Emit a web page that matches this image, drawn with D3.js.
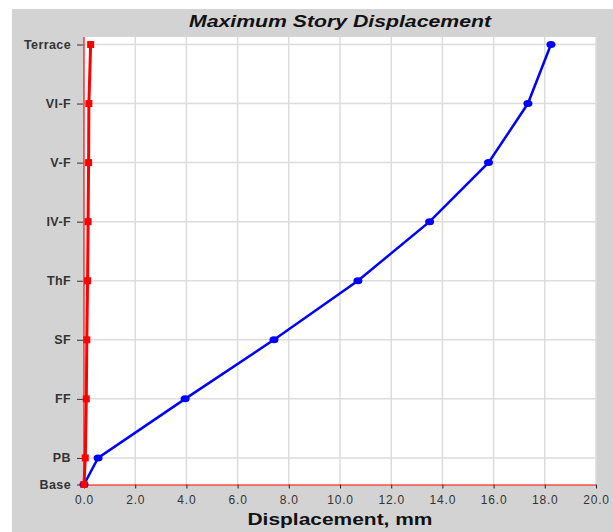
<!DOCTYPE html>
<html>
<head>
<meta charset="utf-8">
<script src="https://cdn.jsdelivr.net/npm/d3@7"></script>
<style>
  body { margin: 0; background: #fff; }
  svg { display: block; }
</style>
</head>
<body>
<script>
// story names and their elevations (m)
var stories = ['Base', 'PB', 'FF', 'SF', 'ThF', 'IV-F', 'V-F', 'VI-F', 'Terrace'],
    levels = [0, 1.35, 4.35, 7.35, 10.35, 13.35, 16.35, 19.35, 22.35],
    dispBlue = [0, 0.55, 3.95, 7.42, 10.7, 13.5, 15.8, 17.34, 18.24],
    dispRed = [0, 0.05, 0.09, 0.11, 0.14, 0.16, 0.18, 0.19, 0.26],
    xTicks = [0, 2, 4, 6, 8, 10, 12, 14, 16, 18, 20];

var svgwidth = 613, svgheight = 532,
    plot = { left: 84, right: 596, top: 37, bottom: 485 };

var xscale = d3.scaleLinear().domain([0, 20]).range([plot.left, plot.right]);
var yscale = d3.scaleLinear().domain([0, 22.35]).range([484.5, 44.5]);

var svg = d3.select('body').append('svg')
    .attr('width', svgwidth)
    .attr('height', svgheight);

// grey panel
svg.append('rect')
    .attr('x', 12).attr('y', 9)
    .attr('width', svgwidth - 12).attr('height', svgheight - 9)
    .attr('fill', '#d3d3d3');

// white plot area
svg.append('rect')
    .attr('x', plot.left).attr('y', plot.top)
    .attr('width', plot.right - plot.left).attr('height', plot.bottom - plot.top)
    .attr('fill', '#fff');

// grid
svg.append('g').selectAll('line')
    .data(xTicks.slice(1))
    .enter().append('line')
    .attr('x1', function (d) { return xscale(d); })
    .attr('x2', function (d) { return xscale(d); })
    .attr('y1', plot.top).attr('y2', plot.bottom)
    .attr('stroke', '#dcdcdc').attr('stroke-width', 1.5);
svg.append('g').selectAll('line')
    .data(levels.slice(1))
    .enter().append('line')
    .attr('x1', plot.left).attr('x2', plot.right)
    .attr('y1', function (d) { return yscale(d); })
    .attr('y2', function (d) { return yscale(d); })
    .attr('stroke', '#dcdcdc').attr('stroke-width', 1.5);

// axes
var xaxis = d3.axisBottom(xscale)
    .tickValues(xTicks)
    .tickFormat(d3.format('.1f'))
    .tickSizeInner(4).tickSizeOuter(0).tickPadding(7);
var gx = svg.append('g')
    .attr('transform', 'translate(0,' + yscale(0) + ')')
    .call(xaxis);
gx.select('.domain').remove();
gx.selectAll('line').attr('stroke', '#222');
gx.selectAll('text')
    .attr('font-family', 'Liberation Sans, Arial, sans-serif')
    .attr('font-size', '12px')
    .attr('letter-spacing', '0.8px')
    .attr('fill', '#333');

var yaxis = d3.axisLeft(yscale)
    .tickValues(levels)
    .tickFormat(function (d, i) { return stories[i]; })
    .tickSizeInner(6).tickSizeOuter(0).tickPadding(6);
var gy = svg.append('g')
    .attr('transform', 'translate(' + (plot.left - 1) + ',0)')
    .call(yaxis);
gy.select('.domain').remove();
gy.selectAll('line').attr('stroke', '#333');
gy.selectAll('text')
    .attr('font-family', 'Liberation Sans, Arial, sans-serif')
    .attr('font-size', '12.5px')
    .attr('font-weight', 'bold')
    .attr('letter-spacing', '0.4px')
    .attr('fill', '#333');

// red axis lines
svg.append('line')
    .attr('x1', plot.left).attr('x2', plot.right)
    .attr('y1', yscale(0) + 0.5).attr('y2', yscale(0) + 0.5)
    .attr('stroke', '#f00').attr('stroke-width', 1.2);
svg.append('line')
    .attr('x1', plot.left).attr('x2', plot.left)
    .attr('y1', plot.top).attr('y2', yscale(0))
    .attr('stroke', '#f00').attr('stroke-width', 1.2);

var line = d3.line()
    .x(function (d) { return xscale(d[0]); })
    .y(function (d) { return yscale(d[1]); });

// blue series
var blue = dispBlue.map(function (d, i) { return [d, levels[i]]; });
svg.append('path')
    .datum(blue)
    .attr('d', line)
    .attr('fill', 'none')
    .attr('stroke', '#0000ff')
    .attr('stroke-width', 2.5);
svg.append('g').selectAll('ellipse')
    .data(blue)
    .enter().append('ellipse')
    .attr('cx', function (d) { return xscale(d[0]); })
    .attr('cy', function (d) { return yscale(d[1]); })
    .attr('rx', 4.5).attr('ry', 3.5)
    .attr('fill', '#0000ff');

// red series
var red = dispRed.map(function (d, i) { return [d, levels[i]]; });
svg.append('path')
    .datum(red)
    .attr('d', line)
    .attr('fill', 'none')
    .attr('stroke', '#ff0000')
    .attr('stroke-width', 3);
svg.append('g').selectAll('rect')
    .data(red)
    .enter().append('rect')
    .attr('x', function (d) { return xscale(d[0]) - 3.5; })
    .attr('y', function (d) { return yscale(d[1]) - 3.5; })
    .attr('width', 7).attr('height', 7)
    .attr('fill', '#ff0000');

// title
svg.append('text')
    .attr('x', (plot.left + plot.right) / 2)
    .attr('y', 27)
    .attr('text-anchor', 'middle')
    .attr('font-family', 'Liberation Sans, Arial, sans-serif')
    .attr('font-size', '17px')
    .attr('font-weight', 'bold')
    .attr('font-style', 'italic')
    .attr('textLength', 302)
    .attr('lengthAdjust', 'spacingAndGlyphs')
    .attr('fill', '#111')
    .text('Maximum Story Displacement');

// x label
svg.append('text')
    .attr('x', 340)
    .attr('y', 525)
    .attr('text-anchor', 'middle')
    .attr('font-family', 'Liberation Sans, Arial, sans-serif')
    .attr('font-size', '17px')
    .attr('font-weight', 'bold')
    .attr('textLength', 185)
    .attr('lengthAdjust', 'spacingAndGlyphs')
    .attr('fill', '#111')
    .text('Displacement, mm');
</script>
</body>
</html>
